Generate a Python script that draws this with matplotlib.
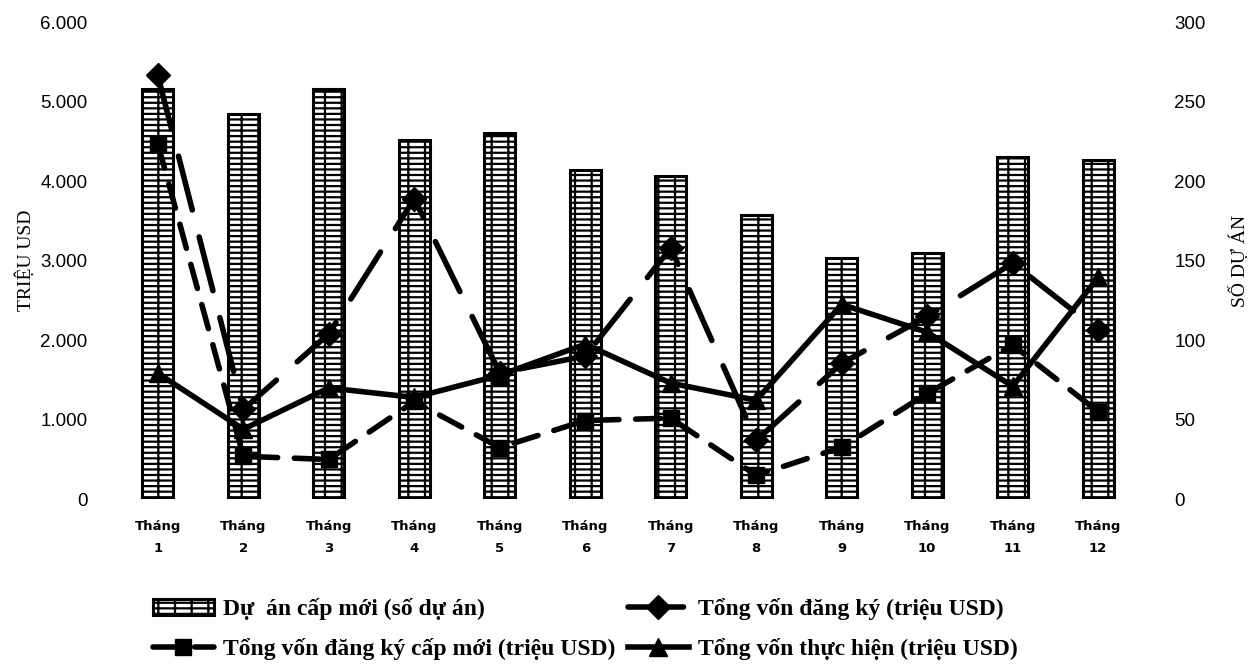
import matplotlib

matplotlib.use("Agg")
import matplotlib.pyplot as plt
import numpy as np

months = ["Tháng\n1", "Tháng\n2", "Tháng\n3", "Tháng\n4", "Tháng\n5", "Tháng\n6",
          "Tháng\n7", "Tháng\n8", "Tháng\n9", "Tháng\n10", "Tháng\n11", "Tháng\n12"]

# số dự án cấp mới (trục phải)
new_projects = [258, 242, 258, 226, 230, 207, 203, 179, 152, 155, 215, 213]

# triệu USD (trục trái)
total_registered = [5330, 1130, 2080, 3780, 1590, 1800, 3160, 740, 1710, 2300, 2970, 2125]
new_registered = [4470, 540, 500, 1230, 650, 990, 1020, 300, 654, 1330, 1940, 1100]
disbursed = [1585, 880, 1400, 1280, 1560, 1950, 1460, 1245, 2450, 2100, 1420, 2790]

left_ticks = [0, 1000, 2000, 3000, 4000, 5000, 6000]
left_tick_labels = ["0", "1.000", "2.000", "3.000", "4.000", "5.000", "6.000"]
right_ticks = [0, 50, 100, 150, 200, 250, 300]

plt.rcParams["hatch.linewidth"] = 1.6

fig = plt.figure(figsize=(12.51, 6.71), dpi=100)
ax = fig.add_axes([0.092, 0.256, 0.820, 0.711])
ax2 = ax.twinx()

x = np.arange(len(months))

bars = ax2.bar(x, new_projects, width=0.36, facecolor="white", edgecolor="black",
               linewidth=2.2, hatch="---|", label="Dự  án cấp mới (số dự án)")

line_kw = dict(color="black", linewidth=4, dash_capstyle="round")
l_total, = ax.plot(x, total_registered, marker="D", markersize=12,
                   linestyle=(0, (10, 5)), label="Tổng vốn đăng ký (triệu USD)", **line_kw)
l_new, = ax.plot(x, new_registered, marker="s", markersize=11,
                 linestyle=(0, (4.5, 3)), label="Tổng vốn đăng ký cấp mới (triệu USD)", **line_kw)
l_disb, = ax.plot(x, disbursed, marker="^", markersize=13,
                  linestyle="-", label="Tổng vốn thực hiện (triệu USD)", **line_kw)

ax.set_zorder(ax2.get_zorder() + 1)
ax.patch.set_visible(False)

ax.set_xlim(-0.5, len(months) - 0.5)
ax.set_ylim(0, 6000)
ax2.set_ylim(0, 300)

ax.set_yticks(left_ticks)
ax.set_yticklabels(left_tick_labels, fontsize=13.5, family="Liberation Sans")
ax2.set_yticks(right_ticks)
ax2.set_yticklabels([str(t) for t in right_ticks], fontsize=13.5, family="Liberation Sans")
ax.set_xticks(x)
ax.set_xticklabels(months, fontsize=9.5, fontweight="bold", family="DejaVu Sans",
                   linespacing=1.9)

ax.tick_params(axis="y", length=0, pad=20)
ax2.tick_params(axis="y", length=0, pad=24)
ax.tick_params(axis="x", length=0, pad=15)

for axis in (ax, ax2):
    for spine in axis.spines.values():
        spine.set_visible(False)

ax.set_ylabel("TRIỆU USD", fontsize=14, family="Liberation Serif")
ax.yaxis.set_label_coords(-0.078, 0.5)
ax2.set_ylabel("SỐ DỰ ÁN", fontsize=14, family="Liberation Serif", rotation=90)
ax2.yaxis.set_label_coords(1.086, 0.5)

fig.legend(handles=[bars, l_new, l_total, l_disb], ncol=2, loc="lower left",
           bbox_to_anchor=(0.105, -0.016), frameon=False,
           prop={"family": "Liberation Serif", "weight": "bold", "size": 17},
           handlelength=2.6, columnspacing=0.5, labelspacing=0.78, handletextpad=0.4)

fig.savefig("out.png", dpi=100)
